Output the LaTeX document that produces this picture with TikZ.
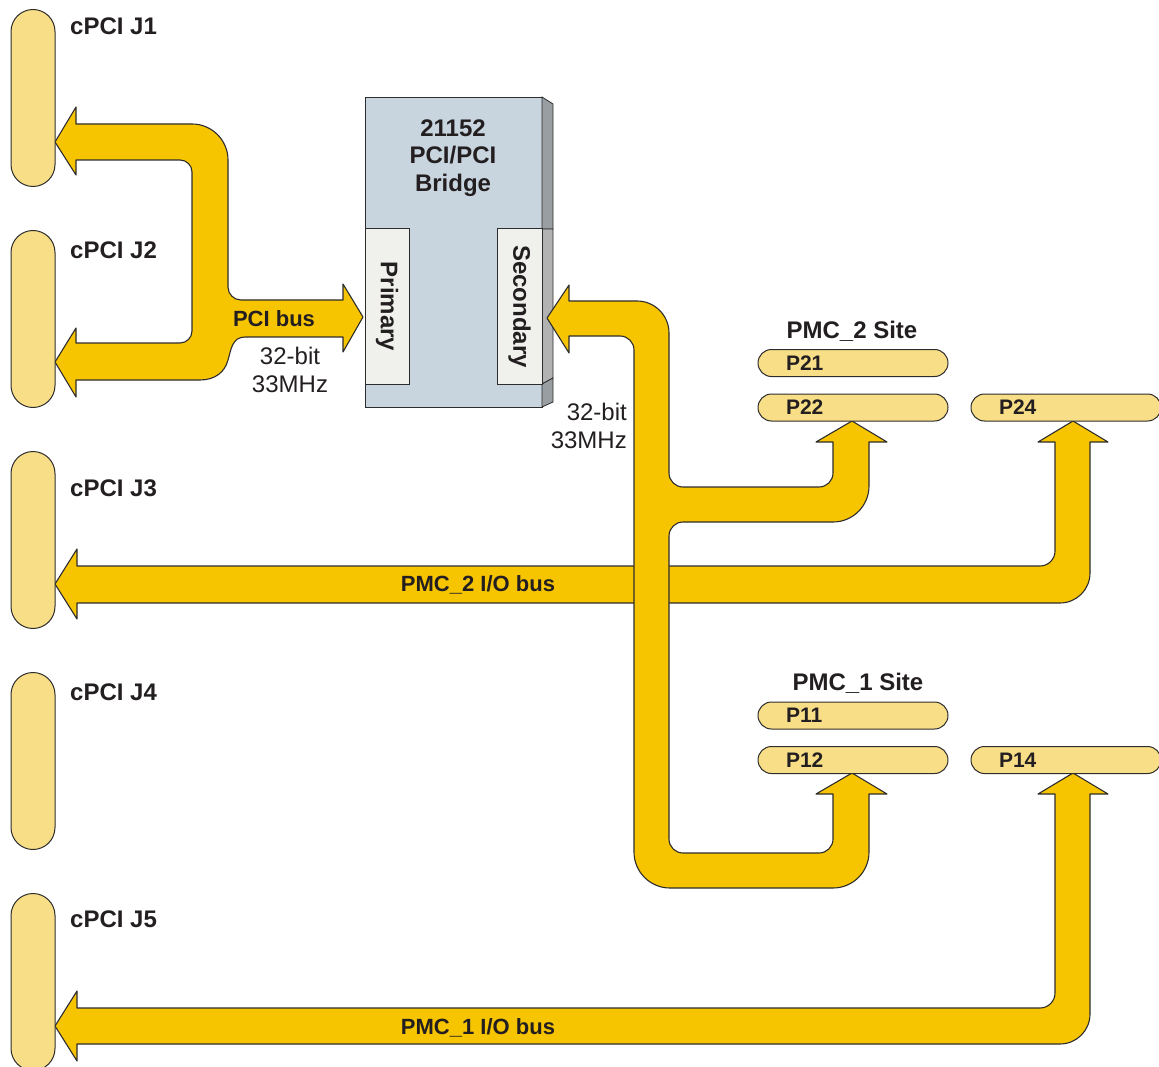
\documentclass[tikz,border=0pt]{standalone}
\usepackage{fontspec}
\setmainfont{Liberation Sans}
\definecolor{barramento}{RGB}{247,196,0}
\definecolor{conector}{RGB}{249,222,136}
\definecolor{contorno}{RGB}{45,45,45}
\definecolor{texto}{RGB}{35,31,32}
\definecolor{ponte}{RGB}{200,212,222}
\definecolor{painel}{RGB}{240,240,237}
\definecolor{lateral}{RGB}{152,158,162}
\definecolor{lateralclara}{RGB}{178,178,178}
\begin{document}
\begin{tikzpicture}[x=1pt, y=-1pt,
    bus/.style={fill=barramento, draw=contorno, line width=1.1pt, line join=round},
    pino/.style={fill=conector, draw=contorno, line width=1pt},
    rotulo/.style={inner sep=0pt, text=texto, font=\fontsize{24}{28}\selectfont\bfseries},
    fino/.style={inner sep=0pt, text=texto, font=\fontsize{24}{28}\selectfont},
    pinocurto/.style={pino, minimum width=190pt, minimum height=27pt, rounded corners=13.5pt,
        text width=134pt, inner xsep=28pt, inner ysep=0pt, align=left, text=texto,
        font=\fontsize{21}{24}\selectfont\bfseries}]

    \useasboundingbox (0,0) rectangle (1159,1067);
    \clip (0,0) rectangle (1159,1067);

    % Ponte PCI/PCI (frente e lateral)
    \node[draw=contorno, fill=ponte, line width=1pt, anchor=north west,
          minimum width=177pt, minimum height=310pt, inner sep=0pt] (ponte) at (365,97) {};
    \filldraw[fill=lateral, draw=contorno, line width=0.8pt] (542,97) -- (553,104) -- (553,229) -- (542,229) -- cycle;
    \filldraw[fill=lateralclara, draw=contorno, line width=0.8pt] (542,229) -- (553,229) -- (553,378) -- (542,384) -- cycle;
    \filldraw[fill=lateral, draw=contorno, line width=0.8pt] (542,384) -- (553,378) -- (553,402) -- (542,407) -- cycle;
    \node[rotulo, align=center, font=\fontsize{24}{27.5}\selectfont\bfseries] (titulo) at (453,158) {21152\\PCI/PCI\\Bridge};

    % Lados primario e secundario
    \node[draw=contorno, fill=painel, line width=1pt, rotate=-90, minimum width=155pt, minimum height=44pt,
          inner sep=0pt, text=texto, font=\fontsize{24}{28}\selectfont\bfseries] (primario) at (387,306.5) {Primary};
    \node[draw=contorno, fill=painel, line width=1pt, rotate=-90, minimum width=155pt, minimum height=45pt,
          inner sep=0pt, text=texto, font=\fontsize{24}{28}\selectfont\bfseries] (secundario) at (519.5,306.5) {Secondary};

    % Barramento de I/O do PMC_2 (por baixo do secundario)
    \draw[bus] (55,584) -- (77,549) -- (77,566) -- (1040,566) arc[start angle=90, end angle=0, radius=15]
        -- (1055,442) -- (1038,442) -- (1073,421) -- (1108,442) -- (1090,442)
        -- (1090,573) arc[start angle=0, end angle=90, radius=30]
        -- (77,603) -- (77,619) -- cycle;

    % Barramento de I/O do PMC_1
    \draw[bus] (55,1026) -- (77,991) -- (77,1008) -- (1040,1008) arc[start angle=90, end angle=0, radius=15]
        -- (1055,794) -- (1038,794) -- (1073,773) -- (1108,794) -- (1090,794)
        -- (1090,1014) arc[start angle=0, end angle=90, radius=30]
        -- (77,1044) -- (77,1061) -- cycle;

    % Barramento PCI primario (J1, J2 e ponte)
    \draw[bus] (55,142) -- (76,107) -- (76,124) -- (192,124) arc[start angle=-90, end angle=0, radius=36]
        -- (228,287) arc[start angle=180, end angle=90, radius=13]
        -- (343,300) -- (343,284) -- (363,317) -- (343,352) -- (343,337)
        -- (245,337) .. controls (232,337) and (231,350) .. (228,360)
        .. controls (225,372) and (215,380) .. (200,380)
        -- (76,380) -- (76,397) -- (55,362) -- (76,328) -- (76,343)
        -- (180,343) arc[start angle=90, end angle=0, radius=12]
        -- (192,172) arc[start angle=0, end angle=-90, radius=12]
        -- (76,160) -- (76,175) -- cycle;

    % Barramento PCI secundario (ponte, P22 e P12)
    \draw[bus] (547,318) -- (569,285) -- (569,301) -- (637,301) arc[start angle=-90, end angle=0, radius=32]
        -- (669,473) arc[start angle=180, end angle=90, radius=14]
        -- (819,487) arc[start angle=90, end angle=0, radius=14]
        -- (833,442) -- (816,442) -- (852,421) -- (887,442) -- (869,442)
        -- (869,486) arc[start angle=0, end angle=90, radius=36]
        -- (683,522) arc[start angle=-90, end angle=-180, radius=14]
        -- (669,839) arc[start angle=180, end angle=90, radius=14]
        -- (819,853) arc[start angle=90, end angle=0, radius=14]
        -- (833,794) -- (816,794) -- (852,773) -- (887,794) -- (869,794)
        -- (869,852) arc[start angle=0, end angle=90, radius=36]
        -- (670,888) arc[start angle=90, end angle=180, radius=36]
        -- (634,350) arc[start angle=0, end angle=-90, radius=14]
        -- (569,336) -- (569,353) -- cycle;

    % Textos dos barramentos
    \node[rotulo, font=\fontsize{22}{26}\selectfont\bfseries] (pcibus) at (274,319) {PCI bus};
    \node[fino, align=center] (velprim) at (290,370) {32-bit\\33MHz};
    \node[fino, align=right, anchor=east] (velsec) at (627,426) {32-bit\\33MHz};
    \node[rotulo, font=\fontsize{22}{26}\selectfont\bfseries] (pmcdoisbus) at (478,585) {PMC\_2 I/O bus};
    \node[rotulo, font=\fontsize{22}{26}\selectfont\bfseries] (pmcumbus) at (478,1028) {PMC\_1 I/O bus};

    % Conectores cPCI: topo/altura do rotulo
    \foreach \topo/\rot [count=\i] in {9/26, 230/250, 451/488, 672/692, 893/919} {
        \node[pino, minimum width=44pt, minimum height=177pt, rounded corners=22pt, anchor=north] (j\i) at (33,\topo) {};
        \node[rotulo, anchor=west] (rj\i) at (70,\rot) {cPCI J\i};
    }

    % Sites PMC
    \node[rotulo] (sitedois) at (852,331) {PMC\_2 Site};
    \node[rotulo] (siteum) at (858,683) {PMC\_1 Site};
    \foreach \nome/\x/\y in {P21/853/363, P22/853/407.5, P24/1066/407.5, P11/853/715.5, P12/853/760, P14/1066/760}
        \node[pinocurto] (\nome) at (\x,\y) {\nome};
\end{tikzpicture}
\end{document}
